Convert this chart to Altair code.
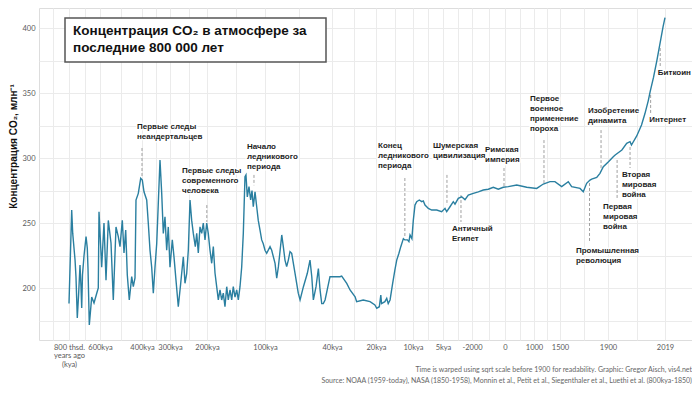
import json
import altair as alt
import pandas as pd

# ---------------- data ----------------
# ice-core era: thousands of years ago (kya) and CO2 ppm
ICE_KYA = [800, 782.6, 776, 761, 755, 746.5, 738, 729, 722.6, 718, 713, 703, 690, 682, 677.4, 669, 653.5,
           638.7, 621, 611, 606.4, 592, 581, 571.4, 560.5, 547.6, 536.7, 523.8, 512.9, 504.8, 493.8, 485.7,
           477.6, 470, 460.5, 449, 441.4, 433.3, 428.6, 417.6, 406.2, 398.9, 392.9, 383.2, 377.5, 371.4,
           365.4, 359.6, 353.6, 347.5, 341.8, 335.7, 329.6, 323.9, 317.9, 311.8, 306.1, 300, 293.8, 289.2,
           283.8, 277.6, 271.1, 264, 259.5, 254.9, 250.5, 245.9, 241.4, 237, 231.6, 227.8, 223.5, 218.9,
           214.3, 210, 205.4, 200.8, 197.8, 194.8, 191.9, 189.1, 186.2, 183.3, 180.5, 177.6, 174.7, 171.9,
           169, 166, 163.3, 160.3, 157.4, 154.7, 151.7, 148.8, 146, 143.1, 140.2, 137.4, 134.5, 132.8,
           130.5, 127.6, 124.7, 122.4, 120.2, 117.2, 114.3, 111.6, 108.6, 105.7, 103, 100, 98.5, 95.5, 94,
           91, 89.5, 88, 85, 83.6, 82.1, 80.6, 79.1, 77.6, 76.1, 73.1, 70.2, 68.6, 65.6, 62.1, 59.7, 58.1,
           56.7, 54.3, 52.2, 50.7, 49.2, 47.8, 46.2, 41.8, 40, 36.4, 35.6, 33.3, 31.8, 29.5, 28.8, 25.8,
           22.7, 20.5, 19.8, 19.1, 18.7, 18.5, 17.6, 17.1, 16.7, 16.2, 15.5, 14.9, 14.4, 13.8, 13.3, 12.6,
           12.2, 11.5, 11.1, 10.8, 10.3, 9.95, 9.67, 9.38, 8.95, 8.55, 8.28, 8.0, 7.72, 7.45, 6.88, 6.05,
           5.22]
ICE_PPM = [188, 260, 242, 221.5, 208.7, 177, 195, 217.7, 201, 184.6, 210, 225, 239.5, 230.7, 215, 171.5, 193,
           188.5, 196, 200, 258.7, 216, 250, 206, 252, 234.6, 190.8, 247, 239.5, 231.8, 252, 227,
           244.6, 210, 190.8, 208.7, 201, 207.7, 267.7, 272.8, 284.4, 283, 274, 267.7, 249.8, 229,
           216, 196, 216, 234, 265, 298.5, 272.8, 242, 254.8, 229, 247, 216, 237, 224,
           206, 185.6, 203.6, 224, 203.6, 211, 229, 267.7, 252, 242, 231.8, 242, 227, 247,
           242, 250, 237, 250, 242, 229, 219, 231.8, 211.5, 201, 190.8, 198.5, 190.8, 196,
           185.6, 201, 190.8, 198.5, 190.8, 201, 193, 198.5, 190.8, 201, 216, 242, 285.6, 287,
           270, 278, 267.7, 275, 262.5, 274, 262.5, 252, 244.6, 237, 234, 229, 226.7, 231.8, 229,
           219, 207.5, 216.4, 240.8, 231.8, 221.5, 216.4, 221.5, 228, 226.7, 211.3, 196, 190.8, 201, 211.3, 221.5, 208.7,
           190.8, 201, 215, 198.5, 188, 188, 190.8, 208.7, 208.7, 208.7, 209.2, 203.6, 198.5, 193.3, 189.5, 190.8,
           189.5, 187, 184.4, 185.6, 194.6, 188, 189.5, 192, 188, 190.8, 203.6, 213.8, 221.5, 226.7, 231.8, 238,
           237, 237, 235.6, 240.8, 238, 252, 263.8, 266.4, 267.7, 266.4, 267, 263.8, 262.5, 261.3, 260, 260,
           258.7]

# historical era: calendar year and CO2 ppm
MODERN_YEAR = [-4793, -4617, -4276, -3935, -3759, -3418, -3066, -2725, -2384, -1921, -1618, -1315, -1012,
               -709, -406, -103, 114, 404, 749, 1052, 1179, 1307, 1403, 1514, 1569, 1597, 1667, 1694, 1722,
               1750, 1764, 1806, 1833, 1861, 1901, 1911, 1915, 1929, 1939, 1946, 1949, 1960, 1970, 1977,
               1984, 1988, 1995, 2002, 2009, 2015, 2019]
MODERN_PPM = [261.3, 258.7, 262.5, 266.4, 264.5, 269, 270.2, 268, 271.5, 272.8, 274, 275.4, 276,
              277.5, 276, 277.5, 278, 279.2, 277.5, 276.6, 280, 281.8, 281.8, 278, 281.8, 278, 276.6, 274, 280.5,
              283, 283.8, 285, 288.2, 293.3, 297.2, 301, 302.3, 306.2, 311.3, 312.6, 310, 317, 325.4, 334,
              344, 351, 362, 375, 389, 401, 408]

# x axis (time warped before 1900)
TICK_YEARS = [-800000, -600000, -400000, -300000, -200000, -100000, -40000, -20000, -10000, -5000,
              -2000, 0, 1000, 1500, 1900, 2019]
TICK_LABELS = ["800 thsd.\nyears ago\n(kya)", "600kya", "400kya", "300kya", "200kya", "100kya", "40kya",
               "20kya", "10kya", "5kya", "-2000", "0", "1000", "1500", "1900", "2019"]

Y_MAJOR = [200, 250, 300, 350, 400]
Y_MINOR = [175, 225, 275, 325, 375]

# annotations: text, label anchor (year, ppm), dashed pointer (year, ppm from, ppm to)
EV_TEXT = ["Первые следы\nнеандертальцев", "Первые следы\nсовременного\nчеловека",
           "Начало\nледникового\nпериода", "Конец\nледникового\nпериода", "Шумерская\nцивилизация",
           "Античный\nЕгипет", "Римская\nимперия", "Первое\nвоенное\nприменение\nпороха",
           "Изобретение\nдинамита", "Промышленная\nреволюция", "Первая\nмировая\nвойна",
           "Вторая\nмировая\nвойна", "Интернет", "Биткоин"]
EV_LABEL_YEAR = [-424000, -267600, -131000, -19460, -6670, -4070, -1210, 862, 1733, 1633, 1858, 1929, 1986, 2004]
EV_LABEL_PPM = [327.3, 292.9, 311.9, 312.2, 312.7, 248.6, 309.6, 348.1, 339.1, 231.9, 265.4, 290, 332.7, 368.1]
EV_YEAR = [-400000, -200500, -119000, -12200, -4590, -3140, -60, 1192, 1842, 1746, 1919, 1946, 1989, 2009]
EV_PPM_FROM = [307.7, 263.8, 287, 284.6, 287, 271.5, 292.3, 313.8, 321.5, 280.8, 298.5, 308.5, 348.5, 384.6]
EV_PPM_TO = [284.6, 250.8, 279, 238.5, 263.8, 250.8, 277.7, 280.8, 290.8, 234.6, 267.7, 292.3, 334.6, 370.8]

TITLE_TEXT = "Концентрация CO₂ в атмосфере за\nпоследние 800 000 лет"
Y_TITLE = "Концентрация CO₂, млн⁻¹"
CAPTION_TEXT = ("Time is warped using sqrt scale before 1900 for readability. Graphic: Gregor Aisch, vis4.net\n"
                "Source: NOAA (1959-today), NASA (1850-1958), Monnin et al., Petit et al., Siegenthaler et al., "
                "Luethi et al. (800kya-1850)")

# ---------------- layout / style ----------------
W, H = 653, 332
# position of each major tick inside the panel (warped time axis)
TICK_PX = [30, 61, 103, 131, 168, 226, 293, 337, 374, 404, 433, 466, 495, 521, 569, 626]
Y_DOMAIN = [160, 415.4]
LINE_COLOR = "#2a7fa0"
GRID = "#ebebeb"

# piecewise-linear warped scale, extended to the panel edges
left_year = TICK_YEARS[0] - TICK_PX[0] * (TICK_YEARS[1] - TICK_YEARS[0]) / (TICK_PX[1] - TICK_PX[0])
right_year = TICK_YEARS[-1] + (W - TICK_PX[-1]) * (TICK_YEARS[-1] - TICK_YEARS[-2]) / (TICK_PX[-1] - TICK_PX[-2])
x_domain = [left_year] + TICK_YEARS + [right_year]
x_range = [0] + TICK_PX + [W]

minors = [(a + b) / 2 for a, b in zip(TICK_YEARS[:-1], TICK_YEARS[1:])]
minors = [TICK_YEARS[0] - (TICK_YEARS[1] - TICK_YEARS[0]) / 2] + minors

expr = ""
for v, lab in zip(TICK_YEARS, TICK_LABELS):
    parts = lab.split("\n")
    js = json.dumps(parts if len(parts) > 1 else parts[0], ensure_ascii=False)
    expr += f"datum.value === {v} ? {js} : "
expr += "''"

x_scale = alt.Scale(domain=x_domain, range=x_range, nice=False, zero=False)
y_scale = alt.Scale(domain=Y_DOMAIN, nice=False, zero=False)

x_axis = alt.Axis(values=sorted(TICK_YEARS + minors), labelExpr=expr, grid=True, gridColor=GRID, gridWidth=1,
                  ticks=False, domain=False, labelFont="Lato", labelFontSize=7.5, labelColor="#5a5a5a",
                  labelPadding=3, labelBaseline="top", labelLineHeight=8.7, labelOverlap=False,
                  labelFlush=False, labelBound=False, title=None)
y_axis = alt.Axis(values=sorted(Y_MAJOR + Y_MINOR), labelExpr="datum.value % 50 === 0 ? datum.label : ''",
                  grid=True, gridColor=GRID, gridWidth=1, ticks=False, domain=False, labelFont="Lato",
                  labelFontSize=7.5, labelColor="#5a5a5a", labelPadding=4, labelOverlap=False,
                  title=Y_TITLE, titleFont="Liberation Sans", titleFontSize=10, titleFontWeight="bold",
                  titleColor="#111", titleX=-26, titleY=138, titleAngle=270, titleAlign="center",
                  titleBaseline="middle")

series = pd.DataFrame({
    "year": [-k * 1000 for k in ICE_KYA] + MODERN_YEAR,
    "ppm": ICE_PPM + MODERN_PPM,
})
events = pd.DataFrame({
    "text": EV_TEXT, "lyear": EV_LABEL_YEAR, "lppm": EV_LABEL_PPM,
    "year": EV_YEAR, "ppm": EV_PPM_FROM, "ppm_end": EV_PPM_TO,
})
one = pd.DataFrame({"k": [0]})

X = alt.X("year:Q", scale=x_scale, axis=x_axis)
Y = alt.Y("ppm:Q", scale=y_scale, axis=y_axis)

rules = alt.Chart(events).mark_rule(color="#a0a0a0", strokeDash=[3, 2], strokeWidth=1).encode(
    x=X, y=Y, y2="ppm_end:Q")
line = alt.Chart(series).mark_line(color=LINE_COLOR, strokeWidth=1.4).encode(x=X, y=Y, order="year:Q")

txt_kw = dict(align="left", baseline="top", font="Liberation Sans", fontWeight="bold", fontSize=8,
              lineBreak="\n", lineHeight=10)
halo = alt.Chart(events).mark_text(color="white", stroke="white", strokeWidth=3, strokeJoin="round",
                                   **txt_kw).encode(
    x=alt.X("lyear:Q", scale=x_scale, axis=x_axis), y=alt.Y("lppm:Q", scale=y_scale, axis=y_axis), text="text:N")
labels = alt.Chart(events).mark_text(color="#1e1e1e", **txt_kw).encode(
    x=alt.X("lyear:Q", scale=x_scale, axis=x_axis), y=alt.Y("lppm:Q", scale=y_scale, axis=y_axis), text="text:N")

title_box = alt.Chart(one).mark_rect(fill="white", stroke="#555555", strokeWidth=1.5).encode(
    x=alt.value(26), x2=alt.value(287), y=alt.value(10), y2=alt.value(54))
title_txt = alt.Chart(one).mark_text(align="left", baseline="top", font="Liberation Sans", fontWeight="bold",
                                     fontSize=13.5, lineBreak="\n", lineHeight=17, color="#111").encode(
    x=alt.value(34), y=alt.value(15.5), text=alt.value(TITLE_TEXT))
caption = alt.Chart(one).mark_text(align="right", baseline="top", font="Lato", fontSize=7, lineBreak="\n",
                                   lineHeight=10.5, color="#666").encode(
    x=alt.value(W), y=alt.value(358), text=alt.value(CAPTION_TEXT))

chart = alt.layer(rules, line, halo, labels, title_box, title_txt, caption).properties(
    width=W, height=H,
    padding={"left": 31, "top": 0, "right": 0, "bottom": 44},
    autosize=alt.AutoSizeParams(type="none"),
).configure_view(stroke=None).configure(background="white")

chart.save("out.html", embed_options={"renderer": "svg", "actions": False})
